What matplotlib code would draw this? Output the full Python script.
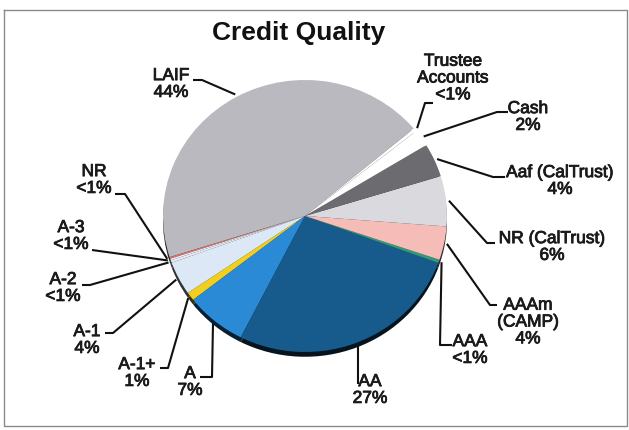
import matplotlib
matplotlib.use("Agg")
import matplotlib.pyplot as plt
import matplotlib.patheffects as pe
import numpy as np
from matplotlib.colors import to_rgb

plt.rcParams['font.family'] = ['Liberation Sans', 'DejaVu Sans']

# ---- data (counter-clockwise order starting at the LAIF slice) ----
categories = ["LAIF", "NR", "A-3", "A-2", "A-1", "A-1+", "A", "AA", "AAA",
              "AAAm\n(CAMP)", "NR (CalTrust)", "Aaf (CalTrust)", "Cash",
              "Trustee\nAccounts"]
values = [44.0, 0.2, 0.2, 0.3, 4.0, 1.0, 7.0, 27.0, 0.4, 4.0, 6.0, 4.0, 2.0, 0.4]
pct_labels = ["44%", "<1%", "<1%", "<1%", "4%", "1%", "7%", "27%", "<1%",
              "4%", "6%", "4%", "2%", "<1%"]
title = "Credit Quality"

# ---- styling ----
colors = ["#b9b9bf", "#e07060", "#e9eef7", "#e2ebf7", "#dce8f6", "#f2cf1e",
          "#2b8ad6", "#165b8c", "#2e9c7a", "#f6bcb8", "#d9d9de", "#6b6b70",
          "#ffffff", "#ffffff"]

W, H = 629, 430
cx, cy, rx, ry = 305, 216, 142, 136
startangle = 40

# label text centres (pixel coords, y down) and leader points (text side)
text_pos = {
    "LAIF": (171, 84),
    "NR": (94, 180),
    "A-3": (71, 236),
    "A-2": (63, 288),
    "A-1": (87, 340),
    "A-1+": (137, 373),
    "A": (190, 382),
    "AA": (370, 390),
    "AAA": (470, 350),
    "AAAm\n(CAMP)": (528, 322),
    "NR (CalTrust)": (552, 247),
    "Aaf (CalTrust)": (560, 181),
    "Cash": (528, 117),
    "Trustee\nAccounts": (453, 78),
}
leaders = {
    "LAIF": [(193, 80), (202, 80)],
    "NR": [(115, 194), (125, 194)],
    "A-3": [(92, 250)],
    "A-2": [(82, 285), (90, 285)],
    "A-1": [(105, 333), (113, 333)],
    "A-1+": [(160, 368), (168, 368)],
    "A": [(200, 377), (212, 377)],
    "AA": [(358, 384)],
    "AAA": [(452, 345), (440, 345)],
    "AAAm\n(CAMP)": [(497, 305), (490, 305)],
    "NR (CalTrust)": [(495, 243), (487, 243)],
    "Aaf (CalTrust)": [(505, 177), (493, 177)],
    "Cash": [(508, 112), (497, 112)],
    "Trustee\nAccounts": [(433, 103), (425, 103)],
}

fig = plt.figure(figsize=(W / 100, H / 100), dpi=100)
fig.patch.set_facecolor("white")

ov = fig.add_axes([0, 0, 1, 1])
ov.set_xlim(0, W)
ov.set_ylim(H, 0)
ov.axis("off")

pie_ax = fig.add_axes([(cx - rx) / W, (H - (cy + ry)) / H, 2 * rx / W, 2 * ry / H])

# 3D-like depth rim (darkened copy slightly lower)
dark = [tuple(c * 0.22 for c in to_rgb(col)) for col in colors]
pie_ax.pie(values, colors=dark, startangle=startangle, counterclock=True,
           center=(0, -0.035), wedgeprops=dict(linewidth=0))
wedges, _ = pie_ax.pie(values, colors=colors, startangle=startangle,
                       counterclock=True, wedgeprops=dict(linewidth=0))
pie_ax.set_aspect("auto")
pie_ax.set_xlim(-1, 1)
pie_ax.set_ylim(-1, 1)
pie_ax.axis("off")

fig.canvas.draw()
inv = ov.transData.inverted()

txt_fx = [pe.withStroke(linewidth=0.6, foreground="#1a1a1a")]
for w, cat, pct in zip(wedges, categories, pct_labels):
    tm = np.deg2rad((w.theta1 + w.theta2) / 2)
    r = 1.02
    disp = pie_ax.transData.transform((r * np.cos(tm), r * np.sin(tm)))
    ax_pt = inv.transform(disp)
    pts = leaders[cat] + [tuple(ax_pt)]
    xs, ys = zip(*pts)
    ov.plot(xs, ys, color="#111111", lw=1.5, solid_capstyle="butt")
    tx, ty = text_pos[cat]
    ov.text(tx, ty, cat + "\n" + pct, ha="center", va="center",
            fontsize=12.5, color="#1a1a1a", linespacing=1.15,
            path_effects=txt_fx)

ov.text(299, 33, title, ha="center", va="center", fontsize=19,
        fontweight="bold", color="#111111")

# outer border
ov.plot([4, 627, 627, 4, 4], [10, 10, 426, 426, 10], color="#8a8a8a", lw=1)

fig.savefig("out.png", dpi=100, facecolor="white")
